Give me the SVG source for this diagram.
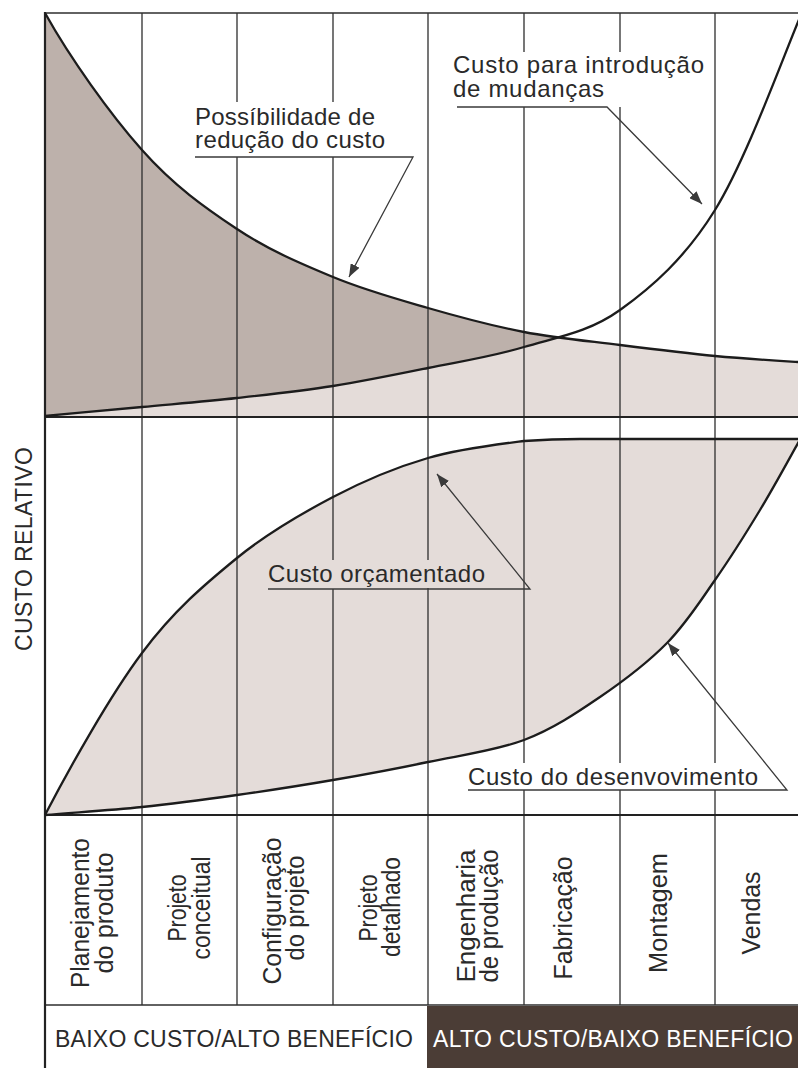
<svg xmlns="http://www.w3.org/2000/svg" width="798" height="1068" viewBox="0 0 798 1068">
  <style>
    .grid { stroke: #2f2f2f; stroke-width: 1.3; fill: none; }
    .frame { stroke: #222; stroke-width: 2.2; fill: none; }
    .curve { stroke: #1c1c1c; stroke-width: 2.3; fill: none; }
    .lead { stroke: #3a3a3a; stroke-width: 1.3; fill: none; }
    .lbl { font-family: "Liberation Sans", Arial, sans-serif; font-size: 24px; fill: #2a2a2a; }
    .col { font-family: "Liberation Sans", Arial, sans-serif; font-size: 25px; fill: #2a2a2a; text-anchor: middle; }
    .band { font-family: "Liberation Sans", Arial, sans-serif; font-size: 23px; }
    .dark { fill: #bdb1ab; }
    .light { fill: #e4dcd9; }
  </style>
  <defs>
    <marker id="arrow" markerUnits="userSpaceOnUse" markerWidth="14" markerHeight="10" refX="13" refY="5" orient="auto">
      <path d="M0,0 L13,5 L0,10 Z" fill="#3a3a3a"/>
    </marker>
    <clipPath id="topArea">
      <rect x="45" y="13" width="767" height="404"/>
    </clipPath>
    <clipPath id="underA">
      <path d="M45,13 C70,58 110,114 142,150 C174,186 205.2,207.8 237,229 C268.8,250.2 301.2,263.8 333,277 C364.8,290.2 396.2,298.8 428,308 C459.8,317.2 492,325.8 524,332 C556,338.2 588.2,341 620,345 C651.8,349 685.3,353.2 715,356 C744.7,358.8 770.5,360.3 798,362 L812,363 L812,417 L45,417 Z"/>
    </clipPath>
  </defs>

  <rect width="798" height="1068" fill="#ffffff"/>

  <!-- upper panel: cost reduction potential vs. cost of changes -->
  <g id="upper-fills" clip-path="url(#topArea)">
    <path class="dark" d="M45,13 C70,58 110,114 142,150 C174,186 205.2,207.8 237,229 C268.8,250.2 301.2,263.8 333,277 C364.8,290.2 396.2,298.8 428,308 C459.8,317.2 492,325.8 524,332 C556,338.2 588.2,341 620,345 C651.8,349 685.3,353.2 715,356 C744.7,358.8 770.5,360.3 798,362 L812,363 L812,417 L45,417 Z"/>
    <path class="light" clip-path="url(#underA)" d="M45,416 C77.3,413 110,410 142,407 C174,404 205.2,401.5 237,398 C268.8,394.5 301.2,391 333,386 C364.8,381 396.2,374.5 428,368 C459.8,361.5 492,356.7 524,347 C556,337.3 588.2,332.8 620,310 C651.8,287.2 685.3,258 715,210 C744.7,162 778.8,68.7 798,22 L808,-2 L812,-2 L812,417 L45,417 Z"/>
  </g>

  <!-- lower panel: budgeted cost vs. development cost -->
  <g id="lower-fills">
    <path class="light" fill-rule="evenodd" d="M45,815 C70,767 110,695.8 142,653 C174,610.2 205.2,584 237,558 C268.8,532 301.2,513.7 333,497 C364.8,480.3 396.2,467.3 428,458 C459.8,448.7 498.7,444.2 524,441 C545,439.5 565,439 580,439 L812,439 L812,815 Z M45,815 C77.3,812.3 110,810.3 142,807 C174,803.7 205.2,799.5 237,795 C268.8,790.5 301.2,785.5 333,780 C364.8,774.5 396.2,768.7 428,762 C459.8,755.3 495.3,750.8 524,740 C552.7,729.2 576.2,713.2 600,697 C623.8,680.8 647.8,662.5 667,643 C686.2,623.5 699.5,602.2 715,580 C730.5,557.8 746.2,532.8 760,510 C773.8,487.2 788.8,459.7 798,443 L802,436 L812,436 L812,815 Z"/>
  </g>

  <!-- dark band behind the high-cost label -->
  <rect id="band-dark" x="427" y="1006" width="371" height="62" fill="#4b3d36"/>

  <!-- grid -->
  <g id="grid">
    <path class="grid" d="M142,13 V1005 M237,13 V102 M237,157 V1005 M333,13 V102 M333,157 V560 M333,589 V1005 M428,13 V560 M428,588 V1005 M524,13 V52 M524,107 V763 M524,790 V1005 M620,13 V52 M620,107 V763 M620,790 V1005 M715,13 V763 M715,790 V1005"/>
    <path class="grid" d="M45,13 H812 M45,1005 H812"/>
    <path class="frame" d="M45,417 H812 M45,815 H812 M45,12 V1068"/>
  </g>

  <!-- curves -->
  <g id="curves" clip-path="url(#topArea)">
    <path id="curve-reduction" class="curve" d="M45,13 C70,58 110,114 142,150 C174,186 205.2,207.8 237,229 C268.8,250.2 301.2,263.8 333,277 C364.8,290.2 396.2,298.8 428,308 C459.8,317.2 492,325.8 524,332 C556,338.2 588.2,341 620,345 C651.8,349 685.3,353.2 715,356 C744.7,358.8 770.5,360.3 798,362 L812,363"/>
    <path id="curve-changes" class="curve" d="M45,416 C77.3,413 110,410 142,407 C174,404 205.2,401.5 237,398 C268.8,394.5 301.2,391 333,386 C364.8,381 396.2,374.5 428,368 C459.8,361.5 492,356.7 524,347 C556,337.3 588.2,332.8 620,310 C651.8,287.2 685.3,258 715,210 C744.7,162 778.8,68.7 798,22 L808,-2"/>
  </g>
  <g id="curves-lower">
    <path id="curve-budget" class="curve" d="M45,815 C70,767 110,695.8 142,653 C174,610.2 205.2,584 237,558 C268.8,532 301.2,513.7 333,497 C364.8,480.3 396.2,467.3 428,458 C459.8,448.7 498.7,444.2 524,441 C545,439.5 565,439 580,439 L812,439"/>
    <path id="curve-development" class="curve" d="M45,815 C77.3,812.3 110,810.3 142,807 C174,803.7 205.2,799.5 237,795 C268.8,790.5 301.2,785.5 333,780 C364.8,774.5 396.2,768.7 428,762 C459.8,755.3 495.3,750.8 524,740 C552.7,729.2 576.2,713.2 600,697 C623.8,680.8 647.8,662.5 667,643 C686.2,623.5 699.5,602.2 715,580 C730.5,557.8 746.2,532.8 760,510 C773.8,487.2 788.8,459.7 798,443 L802,436"/>
  </g>

  <!-- leader lines from the callouts -->
  <g id="connectors">
    <path class="lead" marker-end="url(#arrow)" d="M195,157 H413 L349,277"/>
    <path class="lead" marker-end="url(#arrow)" d="M457,107 H607 L702,204"/>
    <path class="lead" marker-end="url(#arrow)" d="M268,589 H530 L437,474"/>
    <path class="lead" marker-end="url(#arrow)" d="M468,790 H787 L668,643"/>
  </g>

  <!-- callouts -->
  <g id="label-reduction">
    <text class="lbl" x="195" y="125" textLength="180" lengthAdjust="spacing">Possíbilidade de</text>
    <text class="lbl" x="195" y="148" textLength="190" lengthAdjust="spacing">redução do custo</text>
  </g>
  <g id="label-changes">
    <text class="lbl" x="453" y="73" textLength="251" lengthAdjust="spacing">Custo para introdução</text>
    <text class="lbl" x="453" y="97" textLength="151" lengthAdjust="spacing">de mudanças</text>
  </g>
  <g id="label-budget">
    <text class="lbl" x="268" y="582" textLength="217" lengthAdjust="spacing">Custo orçamentado</text>
  </g>
  <g id="label-development">
    <text class="lbl" x="468" y="785" textLength="290" lengthAdjust="spacing">Custo do desenvovimento</text>
  </g>

  <!-- vertical axis title -->
  <g id="axis-title">
    <text class="band" fill="#2a2a2a" text-anchor="middle" font-size="24" transform="translate(32,549) rotate(-90)" textLength="204" lengthAdjust="spacing">CUSTO RELATIVO</text>
  </g>

  <!-- phase columns -->
  <g id="phase-1">
    <text class="col" transform="translate(89,913) rotate(-90)" textLength="150" lengthAdjust="spacingAndGlyphs">Planejamento</text>
    <text class="col" transform="translate(113,913) rotate(-90)" textLength="121" lengthAdjust="spacingAndGlyphs">do produto</text>
  </g>
  <g id="phase-2">
    <text class="col" transform="translate(186,908) rotate(-90)" textLength="67" lengthAdjust="spacingAndGlyphs">Projeto</text>
    <text class="col" transform="translate(210,908) rotate(-90)" textLength="103" lengthAdjust="spacingAndGlyphs">conceitual</text>
  </g>
  <g id="phase-3">
    <text class="col" transform="translate(281,911) rotate(-90)" textLength="147" lengthAdjust="spacingAndGlyphs">Configuração</text>
    <text class="col" transform="translate(304,908) rotate(-90)" textLength="105" lengthAdjust="spacingAndGlyphs">do projeto</text>
  </g>
  <g id="phase-4">
    <text class="col" transform="translate(377,908) rotate(-90)" textLength="67" lengthAdjust="spacingAndGlyphs">Projeto</text>
    <text class="col" transform="translate(400,907) rotate(-90)" textLength="100" lengthAdjust="spacingAndGlyphs">detalhado</text>
  </g>
  <g id="phase-5">
    <text class="col" transform="translate(475,916) rotate(-90)" textLength="133" lengthAdjust="spacingAndGlyphs">Engenharia</text>
    <text class="col" transform="translate(498,916) rotate(-90)" textLength="133" lengthAdjust="spacingAndGlyphs">de produção</text>
  </g>
  <g id="phase-6">
    <text class="col" transform="translate(572,918) rotate(-90)" textLength="123" lengthAdjust="spacingAndGlyphs">Fabricação</text>
  </g>
  <g id="phase-7">
    <text class="col" transform="translate(667,913) rotate(-90)" textLength="120" lengthAdjust="spacingAndGlyphs">Montagem</text>
  </g>
  <g id="phase-8">
    <text class="col" transform="translate(760,913) rotate(-90)" textLength="83" lengthAdjust="spacingAndGlyphs">Vendas</text>
  </g>

  <!-- cost/benefit bands -->
  <g id="band-low">
    <text class="band" x="55" y="1047" fill="#2a2a2a" textLength="358" lengthAdjust="spacing">BAIXO CUSTO/ALTO BENEFÍCIO</text>
  </g>
  <g id="band-high">
    <text class="band" x="433" y="1047" fill="#ffffff" textLength="360" lengthAdjust="spacing">ALTO CUSTO/BAIXO BENEFÍCIO</text>
  </g>
</svg>
